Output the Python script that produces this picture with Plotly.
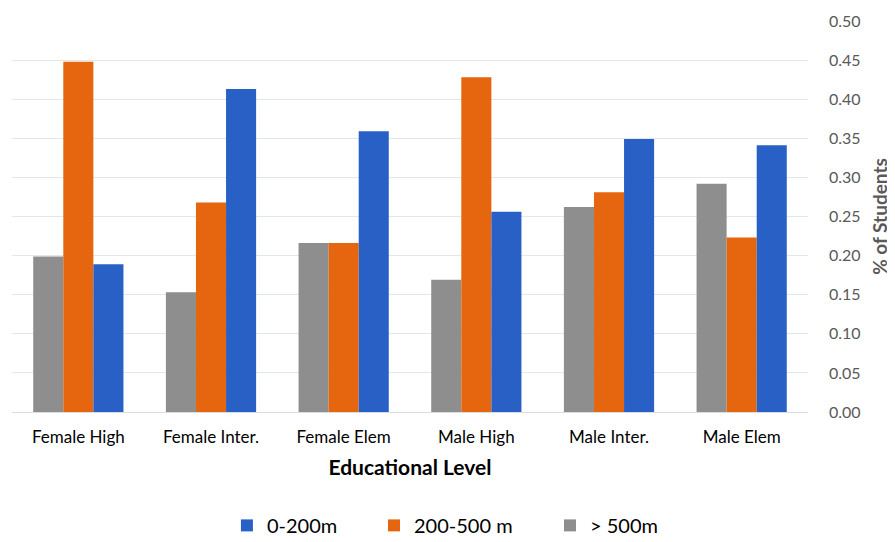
import plotly.graph_objects as go

categories = ["Female High", "Female Inter.", "Female Elem", "Male High", "Male Inter.", "Male Elem"]
gt500 = [0.199, 0.153, 0.216, 0.169, 0.262, 0.292]
m200_500 = [0.448, 0.268, 0.216, 0.428, 0.281, 0.223]
m0_200 = [0.189, 0.413, 0.359, 0.256, 0.349, 0.341]
y_ticks = [0.00, 0.05, 0.10, 0.15, 0.20, 0.25, 0.30, 0.35, 0.40, 0.45, 0.50]

FONT = "Lato"
fig = go.Figure()
fig.add_trace(go.Bar(x=categories, y=gt500, name="> 500m", marker_color="#8e8e8e",
                     marker_line_width=0, legend="legend3"))
fig.add_trace(go.Bar(x=categories, y=m200_500, name="200-500 m", marker_color="#e5660f",
                     marker_line_width=0, legend="legend2"))
fig.add_trace(go.Bar(x=categories, y=m0_200, name="0-200m", marker_color="#2860c6",
                     marker_line_width=0, legend="legend"))

leg_common = dict(orientation="h", yanchor="middle", y=-0.29, xanchor="left",
                  font=dict(family=FONT, size=20, color="#000000"),
                  bgcolor="rgba(0,0,0,0)", itemwidth=30)
fig.update_layout(
    width=895, height=542,
    showlegend=True,
    margin=dict(l=4, r=95, t=13, b=138, autoexpand=False),
    paper_bgcolor="white", plot_bgcolor="white",
    barmode="group", bargap=0.32, bargroupgap=0,
    font=dict(family=FONT),
    xaxis=dict(
        automargin=False,
        tickfont=dict(family=FONT, size=17, color="#000000"),
        ticklabelstandoff=10,
        title=dict(text="<b>Educational Level</b>", font=dict(family=FONT, size=21, color="#000000"), standoff=13),
        showline=True, linecolor="#d9dde3", linewidth=1,
        ticks="", showgrid=False,
    ),
    yaxis=dict(
        automargin=False,
        side="right", range=[0, 0.5], tickvals=y_ticks,
        tickformat=".2f",
        tickfont=dict(family=FONT, size=16, color="#595959"),
        gridcolor="#e3e6eb", gridwidth=1, zeroline=False,
        ticklabelstandoff=20,
        title=dict(text="<b>% of Students</b>", font=dict(family=FONT, size=19, color="#595959"), standoff=14),
    ),
    legend=dict(leg_common, x=0.270),
    legend2=dict(leg_common, x=0.4548),
    legend3=dict(leg_common, x=0.6759),
)

fig.write_html("out.html")
